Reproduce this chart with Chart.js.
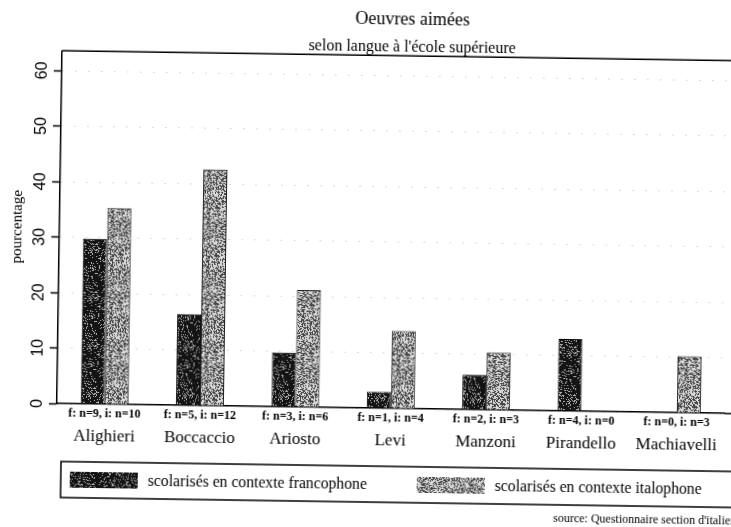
<!DOCTYPE html>
<html lang="fr">
<head>
  <meta charset="UTF-8">
  <title>Oeuvres aimées</title>
  <script src="https://cdn.jsdelivr.net/npm/chart.js"></script>
  <style>
    html, body { margin: 0; padding: 0; background: #fff; overflow: hidden; width: 731px; height: 527px; }
    /* le scan original est légèrement penché */
    #graphe { position: absolute; left: 0; top: 0; transform: rotate(0.85deg); transform-origin: 365px 263px; }
  </style>
</head>
<body>
<canvas id="graphe" width="818" height="527"></canvas>

<script>
  const auteurs = ['Alighieri', 'Boccaccio', 'Ariosto', 'Levi', 'Manzoni', 'Pirandello', 'Machiavelli'];
  const effectifs = ['f: n=9, i: n=10', 'f: n=5, i: n=12', 'f: n=3, i: n=6', 'f: n=1, i: n=4', 'f: n=2, i: n=3', 'f: n=4, i: n=0', 'f: n=0, i: n=3'];
  const francophone = [29.8, 16.5, 9.8, 3.0, 6.3, 13.0, 0];
  const italophone = [35.4, 42.6, 21.1, 14.0, 10.4, 0, 10.2];
  const graduations = [0, 10, 20, 30, 40, 50, 60];

  // texture granuleuse (bruit déterministe) pour imiter la trame imprimée
  function grain(seed, fond, densite, clair) {
    const c = document.createElement('canvas');
    c.width = 48; c.height = 48;
    const g = c.getContext('2d');
    const img = g.createImageData(48, 48);
    for (let i = 0; i < 48 * 48; i++) {
      let h = Math.imul(i + seed * 7919, 2654435761);
      h ^= h >>> 15; h = Math.imul(h, 2246822519); h ^= h >>> 13;
      const r = (h >>> 0) / 4294967296;
      const v = r < densite ? clair : fond;
      img.data[i * 4] = img.data[i * 4 + 1] = img.data[i * 4 + 2] = v;
      img.data[i * 4 + 3] = 255;
    }
    g.putImageData(img, 0, 0);
    return g.createPattern(c, 'repeat');
  }
  const motifFranco = grain(1, 20, 0.16, 180);
  const motifItalo = grain(2, 70, 0.55, 215);

  // cadre du haut, prolongement de l'axe, légende encadrée et source
  const cadre = {
    id: 'cadre',
    afterDraw(chart) {
      const {ctx, chartArea: a, width} = chart;
      ctx.save();
      ctx.strokeStyle = '#000';
      ctx.lineWidth = 1.6;
      ctx.beginPath();
      ctx.moveTo(a.left, a.top); ctx.lineTo(width, a.top);
      ctx.moveTo(a.right, a.bottom); ctx.lineTo(width, a.bottom);
      ctx.stroke();

      const haut = 466, bas = 502, milieu = (haut + bas) / 2;
      ctx.lineWidth = 1.5;
      ctx.strokeRect(a.left + 5, haut, width, bas - haut);
      const positions = [a.left + 14, a.left + 361];
      ctx.font = "15.7px 'Liberation Serif'";
      ctx.textBaseline = 'middle';
      chart.data.datasets.forEach((ds, i) => {
        const x = positions[i];
        ctx.fillStyle = ds.backgroundColor;
        ctx.fillRect(x, milieu - 8, 68, 16);
        ctx.fillStyle = '#000';
        ctx.fillText(ds.label, x + 78, milieu + 1);
      });
      ctx.font = "12px 'Liberation Serif'";
      ctx.fillText("source: Questionnaire section d'italien", 557, 516);
      ctx.restore();
    }
  };

  Chart.defaults.font.family = "'Liberation Serif', serif";
  Chart.defaults.color = '#000';

  new Chart(document.getElementById('graphe'), {
    type: 'bar',
    data: {
      labels: auteurs,
      datasets: [{
        label: 'scolarisés en contexte francophone',
        data: francophone,
        backgroundColor: motifFranco,
        borderColor: '#000',
        borderWidth: 1
      }, {
        label: 'scolarisés en contexte italophone',
        data: italophone,
        backgroundColor: motifItalo,
        borderColor: '#111',
        borderWidth: 1
      }]
    },
    options: {
      responsive: false,
      animation: false,
      categoryPercentage: 0.503,
      barPercentage: 1,
      layout: { padding: { top: 0, left: 0, right: 0, bottom: 76 } },
      plugins: {
        legend: { display: false },
        tooltip: { enabled: false },
        title: {
          display: true,
          text: 'Oeuvres aimées',
          font: { size: 18, weight: 'normal', lineHeight: 1.1 },
          padding: { top: 9, bottom: 0 }
        },
        subtitle: {
          display: true,
          text: "selon langue à l'école supérieure",
          color: '#000',
          font: { size: 16, lineHeight: 1.1 },
          padding: { top: 8.9, bottom: 0 }
        }
      },
      scales: {
        x: {
          offset: true,
          afterFit: s => { s.height = 17.4; },
          grid: { display: false, drawTicks: false },
          border: { display: true, color: '#000', width: 1.5 },
          ticks: {
            padding: 3, maxRotation: 0, autoSkip: false,
            font: { size: 12, weight: 'bold' },
            callback: (v, i) => effectifs[i]
          }
        },
        x2: {
          type: 'category',
          position: 'bottom',
          offset: true,
          afterFit: s => { s.height = 25.4; },
          grid: { display: false, drawTicks: false },
          border: { display: false },
          ticks: { padding: 5, maxRotation: 0, autoSkip: false, font: { size: 17 } }
        },
        y: {
          min: 0,
          max: 63.6,
          afterBuildTicks: s => { s.ticks = graduations.map(v => ({ value: v })); },
          afterFit: s => { s.width = 59; },
          ticks: {
            minRotation: 90, maxRotation: 90, crossAlign: 'center', padding: 3,
            font: { family: "'Liberation Sans', sans-serif", size: 16 }
          },
          grid: { color: '#b4b4b4', lineWidth: 1, tickColor: '#000', tickLength: 8, tickWidth: 1.5 },
          border: { display: true, color: '#000', width: 1.5, dash: [1, 12] },
          title: { display: true, text: 'pourcentage', padding: { top: 8.5, bottom: 0 }, font: { size: 15 } }
        },
        yR: {
          type: 'linear',
          position: 'right',
          afterFit: s => { s.width = 91.4; },
          ticks: { display: false },
          grid: { display: false },
          border: { display: false }
        }
      }
    },
    plugins: [cadre]
  });
</script>
</body>
</html>
